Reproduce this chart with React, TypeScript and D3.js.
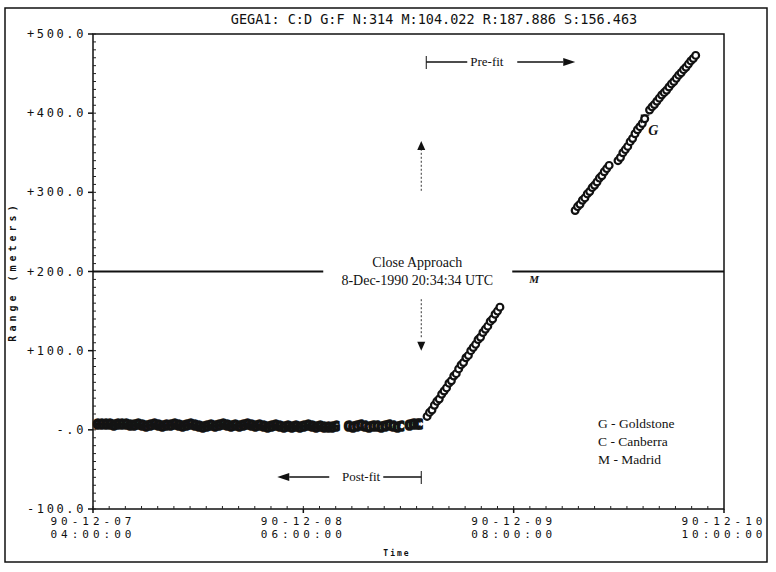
import React from "react";
import * as d3 from "d3";

// hours since 1990-12-07 04:00 UTC, range residuals in meters
const postFitHoursA = [
  0.5, 1.0, 1.5, 2.0, 2.5, 3.0, 3.5, 4.0, 4.5, 5.0, 5.5, 6.0, 6.5, 7.0, 7.5, 8.0, 8.5, 9.0, 9.5, 10.0,
  10.5, 11.0, 11.5, 12.0, 12.5, 13.0, 13.5, 14.0, 14.5, 15.0, 15.5, 16.0, 16.5, 17.0, 17.5, 18.0, 18.5, 19.0, 19.5, 20.0,
  20.5, 21.0, 21.5, 22.0, 22.5, 23.0, 23.5, 24.0, 24.5, 25.0, 25.5, 26.0, 26.5, 27.0, 27.5, 28.0, 28.5, 29.0, 29.5, 30.0,
];
const postFitRangeA = [
  8, 7, 8, 7, 6, 7, 8, 7, 6, 6, 7, 6, 5, 6, 7, 6, 5, 6, 6, 7,
  6, 5, 6, 7, 6, 5, 4, 5, 6, 5, 6, 7, 6, 5, 6, 5, 6, 7, 6, 5,
  6, 5, 4, 5, 6, 5, 4, 5, 4, 5, 4, 5, 6, 5, 4, 5, 4, 3, 4, 5,
];
const postFitHoursB = [
  31.5, 32.0, 32.5, 33.0, 33.5, 34.0, 34.5, 35.0, 35.5, 36.0, 36.5, 37.0, 37.5, 38.0, 39.0, 39.5, 40.0, 40.3,
];
const postFitRangeB = [5, 4, 5, 6, 5, 4, 5, 5, 4, 5, 6, 5, 4, 5, 6, 7, 8, 8];

const preFitHoursA = [
  41.3, 41.6, 41.9, 42.2, 42.5, 42.8, 43.1, 43.4, 43.7, 44.0, 44.3, 44.6, 44.9, 45.2, 45.5, 45.8,
  46.1, 46.4, 46.7, 47.0, 47.3, 47.6, 47.9, 48.2, 48.5, 48.8, 49.1, 49.4, 49.7, 50.0, 50.3,
];
const preFitRangeA = [
  17, 22, 25, 31, 36, 39, 45, 49, 53, 59, 62, 68, 71, 77, 82, 85,
  91, 94, 100, 104, 108, 114, 117, 123, 127, 131, 137, 140, 146, 150, 155,
];
const preFitHoursB = [
  59.6, 59.9, 60.2, 60.5, 60.8, 61.1, 61.4, 61.7, 62.0, 62.3, 62.6, 62.9, 63.2, 63.5, 63.8,
  64.9, 65.2, 65.5, 65.8, 66.1, 66.4, 66.7, 67.0, 67.3, 67.6, 67.9, 68.2,
  68.8, 69.1, 69.4, 69.7, 70.0, 70.3, 70.6, 70.9, 71.2, 71.5, 71.8, 72.1, 72.4, 72.7, 73.0, 73.3, 73.6, 73.9, 74.2, 74.5,
];
const preFitRangeB = [
  277, 282, 285, 290, 293, 298, 301, 306, 309, 313, 318, 321, 326, 330, 334,
  340, 344, 350, 354, 358, 364, 368, 374, 379, 383, 387, 393,
  404, 408, 411, 415, 419, 423, 426, 429, 433, 437, 440, 444, 448, 451, 455, 458, 462, 466, 469, 473,
];

const xTickTimes = ["1990-12-07T04:00:00Z", "1990-12-08T06:00:00Z", "1990-12-09T08:00:00Z", "1990-12-10T10:00:00Z"];
const yTickValues = [500, 400, 300, 200, 100, 0, -100];
const yTickLabels = ["+500.0", "+400.0", "+300.0", "+200.0", "+100.0", "-.0", "-100.0"];
const legendItems = ["G - Goldstone", "C - Canberra", "M - Madrid"];
const titleText = "GEGA1: C:D G:F N:314 M:104.022 R:187.886 S:156.463";
const closeApproach = "1990-12-08T20:34:34Z";

const start = Date.UTC(1990, 11, 7, 4);
const toDate = (h: number) => new Date(start + h * 3600e3);

const mono = "'DejaVu Sans Mono', monospace";
const serif = "'Liberation Serif', 'DejaVu Serif', serif";

export default function App() {
  const W = 776, H = 572;
  const left = 93, right = 724, top = 34, bottom = 509;

  const x = d3.scaleUtc().domain([new Date(start), new Date(xTickTimes[3])]).range([left, right]);
  const y = d3.scaleLinear().domain([-100, 500]).range([bottom, top]);

  const fDate = d3.utcFormat("%y-%m-%d");
  const fTime = d3.utcFormat("%H:%M:%S");
  const xCA = x(new Date(closeApproach));
  const y200 = y(200);

  const yMinor = d3.range(-100, 501, 10);
  const xMinor = d3.utcHour.every(2)!.range(new Date(start), new Date(xTickTimes[3]));

  const postFit = [
    ...postFitHoursA.map((h, i) => [toDate(h), postFitRangeA[i], "G"] as [Date, number, string]),
    ...postFitHoursB.map((h, i) => [toDate(h), postFitRangeB[i], "C"] as [Date, number, string]),
  ];
  const preFit = [
    ...preFitHoursA.map((h, i) => [toDate(h), preFitRangeA[i]] as [Date, number]),
    ...preFitHoursB.map((h, i) => [toDate(h), preFitRangeB[i]] as [Date, number]),
  ];

  const gx = x(toDate(68.4));
  const gy = y(395);

  return (
    <svg width={W} height={H} style={{ position: "absolute", left: 0, top: 0, background: "#fff" }}>
      {/* outer frame */}
      <rect x={5} y={8} width={762} height={554} fill="none" stroke="#111" strokeWidth={1.5} />
      <text x={434} y={24} textAnchor="middle" fontFamily={mono} fontSize={13.5} fill="#111">
        {titleText}
      </text>

      {/* plot box */}
      <rect x={left} y={top} width={right - left} height={bottom - top} fill="none" stroke="#111" strokeWidth={1.5} />

      {/* y axis */}
      {yMinor.map((v) => (
        <line key={"ym" + v} x1={left} x2={left + 3} y1={y(v)} y2={y(v)} stroke="#222" strokeWidth={1} />
      ))}
      {yTickValues.map((v, i) => (
        <g key={"yt" + v}>
          <line x1={left - 5} x2={left} y1={y(v)} y2={y(v)} stroke="#111" strokeWidth={1.5} />
          <text x={left - 7} y={y(v) + 4} textAnchor="end" fontFamily={mono} fontSize={12} letterSpacing={2.6} fill="#111">
            {yTickLabels[i]}
          </text>
        </g>
      ))}
      <text
        transform={`translate(16,${(top + bottom) / 2}) rotate(-90)`}
        textAnchor="middle"
        fontFamily={mono}
        fontWeight="bold"
        fontSize={10}
        letterSpacing={4}
        fill="#111"
      >
        Range (meters)
      </text>

      {/* x axis */}
      {xMinor.map((d) => (
        <line key={"xm" + +d} x1={x(d)} x2={x(d)} y1={bottom} y2={bottom - 3} stroke="#222" strokeWidth={1} />
      ))}
      {xTickTimes.map((s) => {
        const d = new Date(s);
        return (
          <g key={s}>
            <line x1={x(d)} x2={x(d)} y1={bottom} y2={bottom + 4} stroke="#111" strokeWidth={1.5} />
            <text x={x(d)} y={bottom + 16} textAnchor="middle" fontFamily={mono} fontSize={11} letterSpacing={4} fill="#111">
              {fDate(d)}
            </text>
            <text x={x(d)} y={bottom + 29} textAnchor="middle" fontFamily={mono} fontSize={11} letterSpacing={4} fill="#111">
              {fTime(d)}
            </text>
          </g>
        );
      })}
      <text x={397} y={556} textAnchor="middle" fontFamily={mono} fontWeight="bold" fontSize={8} letterSpacing={2} fill="#111">
        Time
      </text>

      {/* 200 m reference line, broken by the close approach label */}
      <line x1={left} x2={xCA - 98} y1={y200} y2={y200} stroke="#111" strokeWidth={1.8} />
      <line x1={xCA + 91} x2={right} y1={y200} y2={y200} stroke="#111" strokeWidth={1.8} />
      <text x={xCA + 108} y={y200 + 11} fontFamily={serif} fontStyle="italic" fontWeight="bold" fontSize={11} fill="#111">
        M
      </text>

      {/* close approach markers */}
      <line x1={xCA} x2={xCA} y1={y(355)} y2={y(300)} stroke="#333" strokeWidth={1} strokeDasharray="2,2" />
      <path d={`M${xCA},${y(365)} l-4,9 h8 z`} fill="#111" />
      <line x1={xCA} x2={xCA} y1={y(165)} y2={y(115)} stroke="#333" strokeWidth={1} strokeDasharray="2,2" />
      <path d={`M${xCA},${y(100)} l-4,-9 h8 z`} fill="#111" />
      <text x={xCA - 4} y={y200 - 5} textAnchor="middle" fontFamily={serif} fontSize={14} fill="#111">
        Close Approach
      </text>
      <text x={xCA - 4} y={y200 + 13} textAnchor="middle" fontFamily={serif} fontSize={14} fill="#111">
        8-Dec-1990 20:34:34 UTC
      </text>

      {/* pre-fit arrow */}
      <line x1={xCA + 5} x2={xCA + 5} y1={56} y2={69} stroke="#111" strokeWidth={1} />
      <line x1={xCA + 5} x2={xCA + 46} y1={62} y2={62} stroke="#111" strokeWidth={1.3} />
      <text x={xCA + 49} y={66} fontFamily={serif} fontSize={13} fill="#111">Pre-fit</text>
      <line x1={xCA + 96} x2={xCA + 142} y1={62} y2={62} stroke="#111" strokeWidth={1.3} />
      <path d={`M${xCA + 154},62 l-12,-4 v8 z`} fill="#111" />

      {/* post-fit arrow */}
      <line x1={xCA} x2={xCA} y1={471} y2={484} stroke="#111" strokeWidth={1} />
      <line x1={xCA} x2={xCA - 38} y1={477} y2={477} stroke="#111" strokeWidth={1.3} />
      <text x={xCA - 41} y={481} textAnchor="end" fontFamily={serif} fontSize={13} fill="#111">Post-fit</text>
      <line x1={xCA - 92} x2={xCA - 132} y1={477} y2={477} stroke="#111" strokeWidth={1.3} />
      <path d={`M${xCA - 144},477 l12,-4 v8 z`} fill="#111" />

      {/* post-fit residuals: station letters, dense enough to merge into a band */}
      <g opacity={0.99}>
        {postFit.map(([d, v, s], i) => (
          <text
            key={"po" + i}
            x={x(d)}
            y={y(v) + 5}
            textAnchor="middle"
            fontFamily={mono}
            fontWeight="bold"
            fontSize={14}
            stroke="#111"
            strokeWidth={1.6}
            fill="#111"
          >
            {s}
          </text>
        ))}
      </g>

      {/* pre-fit residuals */}
      {preFit.map(([d, v], i) => (
        <circle key={"pr" + i} cx={x(d)} cy={y(v)} r={3.4} fill="#fff" stroke="#111" strokeWidth={2.2} />
      ))}
      <path d={`M${gx - 5},${gy + 6} v-8 h8`} fill="none" stroke="#111" strokeWidth={1.2} />
      <text x={gx + 2} y={gy + 18} fontFamily={serif} fontStyle="italic" fontWeight="bold" fontSize={14} fill="#111">
        G
      </text>

      {/* legend */}
      {legendItems.map((s, i) => (
        <text key={s} x={598} y={428 + i * 18} fontFamily={serif} fontSize={13.5} fill="#111">
          {s}
        </text>
      ))}
    </svg>
  );
}
